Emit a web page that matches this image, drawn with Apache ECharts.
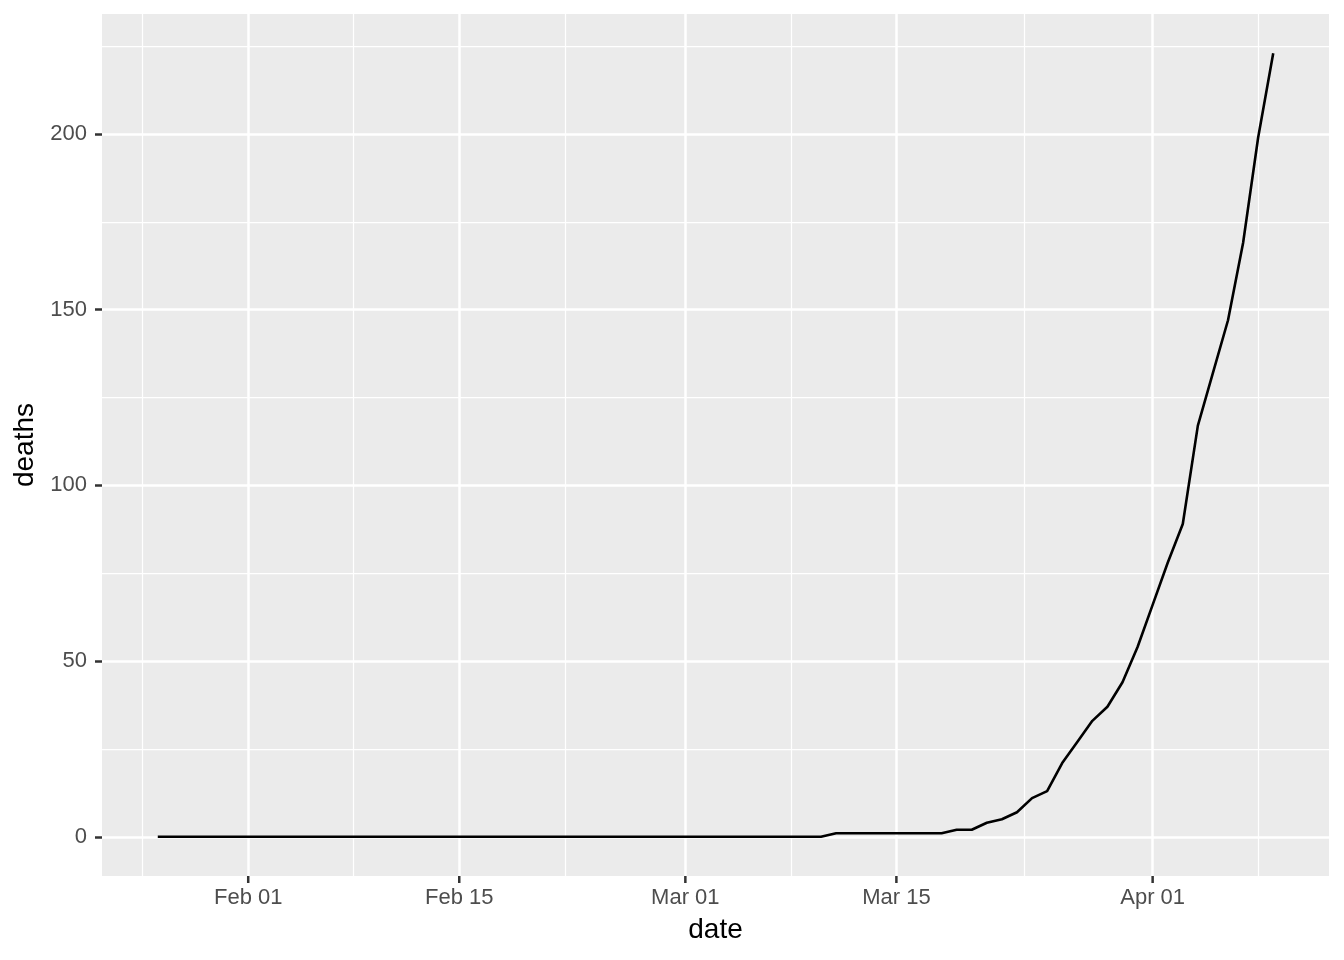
<!DOCTYPE html>
<html><head><meta charset="utf-8">
<script src="https://cdn.jsdelivr.net/npm/echarts@6/dist/echarts.min.js"></script>
<style>html,body{margin:0;padding:0;background:#fff}#c{width:1344px;height:960px}</style>
</head><body><div id="c"></div>
<script>
// Data: daily cumulative deaths, 2020-01-26 .. 2020-04-09
const startDate = [2020, 0, 26];
const deaths = [
  0,0,0,0,0,0,                                   // Jan 26-31
  0,0,0,0,0,0,0,0,0,0,0,0,0,0,0,0,0,0,0,0,0,0,0,0,0,0,0,0,0, // Feb 1-29
  0,0,0,0,0,0,0,0,0,0,                           // Mar 1-10
  1,1,1,1,1,1,1,1,                               // Mar 11-18
  2,2,4,5,7,11,13,21,27,33,37,44,54,             // Mar 19-31
  66,78,89,117,132,147,169,199,223               // Apr 1-9
];
const xMajorTicks = ['2020-02-01','2020-02-15','2020-03-01','2020-03-15','2020-04-01'];
const xMajorLabels = ['Feb 01','Feb 15','Mar 01','Mar 15','Apr 01'];
const xMinorTicks = ['2020-01-25','2020-02-08','2020-02-22','2020-03-08','2020-03-23T12:00','2020-04-08'];
const yMajorTicks = [0,50,100,150,200];
const yMinorTicks = [25,75,125,175,225];

function ts(s){
  const [d, t] = s.split('T');
  const [y,m,dd] = d.split('-').map(Number);
  let h = 0; if (t) h = Number(t.split(':')[0]);
  return Date.UTC(y, m-1, dd, h);
}
const points = deaths.map((v,i)=>[Date.UTC(startDate[0], startDate[1], startDate[2]+i), v]);
const xs = points.map(p=>p[0]);
const xRange = xs[xs.length-1]-xs[0];
const xMin = xs[0]-0.05*xRange, xMax = xs[xs.length-1]+0.05*xRange;
const yMaxData = Math.max(...deaths), yMinData = 0;
const yR = yMaxData - yMinData;
const yMin = yMinData-0.05*yR, yMax = yMaxData+0.05*yR;

const majorX = xMajorTicks.map(ts);
const minorX = xMinorTicks.map(ts);
const labelMap = {};
majorX.forEach((t,i)=>labelMap[t]=xMajorLabels[i]);

const FONT = 'Liberation Sans, Arial, Helvetica, sans-serif';
const TICK_LEN = 7;
const chart = echarts.init(document.getElementById('c'), null, {renderer:'canvas'});
const gridLine = (arr, key, w) => arr.map(v=>({[key]: v, lineStyle:{color:'#ffffff', width:w, type:'solid'}}));

chart.setOption({
  animation:false,
  backgroundColor:'#ffffff',
  grid:{left:102, right:15, top:14, bottom:84, show:true, backgroundColor:'#EBEBEB', borderWidth:0},
  xAxis:{
    type:'value', min:xMin, max:xMax, z:5, position:'bottom',
    name:'date', nameLocation:'middle', nameGap:40,
    nameTextStyle:{color:'#000', fontSize:28, fontFamily:FONT},
    axisLine:{show:false, onZero:false},
    axisTick:{show:false, customValues:majorX},
    axisLabel:{show:true, customValues:majorX, margin:11, color:'#4D4D4D', fontSize:22, fontFamily:FONT,
      formatter:(v)=>labelMap[v] || ''},
    splitLine:{show:false}
  },
  yAxis:{
    type:'value', min:yMin, max:yMax, z:5,
    name:'deaths', nameLocation:'middle', nameGap:61, nameRotate:90,
    nameTextStyle:{color:'#000', fontSize:28, fontFamily:FONT},
    axisLine:{show:false, onZero:false},
    axisTick:{show:true, inside:false, customValues:yMajorTicks, length:TICK_LEN, lineStyle:{color:'#333333', width:2.5}},
    axisLabel:{show:true, customValues:yMajorTicks, margin:15, color:'#4D4D4D', fontSize:22, fontFamily:FONT},
    splitLine:{show:false}
  },
  series:[
    {
      type:'line', data:[], z:1, silent:true,
      markLine:{
        z:1, silent:true, symbol:['none','none'], animation:false, label:{show:false},
        data:[].concat(
          gridLine(minorX,'xAxis',1.25), gridLine(yMinorTicks,'yAxis',1.25),
          gridLine(majorX,'xAxis',2.5), gridLine(yMajorTicks,'yAxis',2.5)
        )
      }
    },
    {
      // x-axis tick marks, placed through the axis scale and drawn just below the panel
      type:'custom', z:20, silent:true, clip:false,
      data: majorX.map(v=>[v, yMin]),
      encode:{x:0, y:1},
      renderItem:(params, api)=>{
        const p = api.coord([api.value(0), api.value(1)]);
        return {type:'line', shape:{x1:p[0], y1:p[1], x2:p[0], y2:p[1]+TICK_LEN},
                style:{stroke:'#333333', lineWidth:2.5}};
      }
    },
    {
      type:'line', data:points, z:10, showSymbol:false, symbol:'none',
      lineStyle:{color:'#000000', width:2.6}
    }
  ]
});
</script></body></html>
